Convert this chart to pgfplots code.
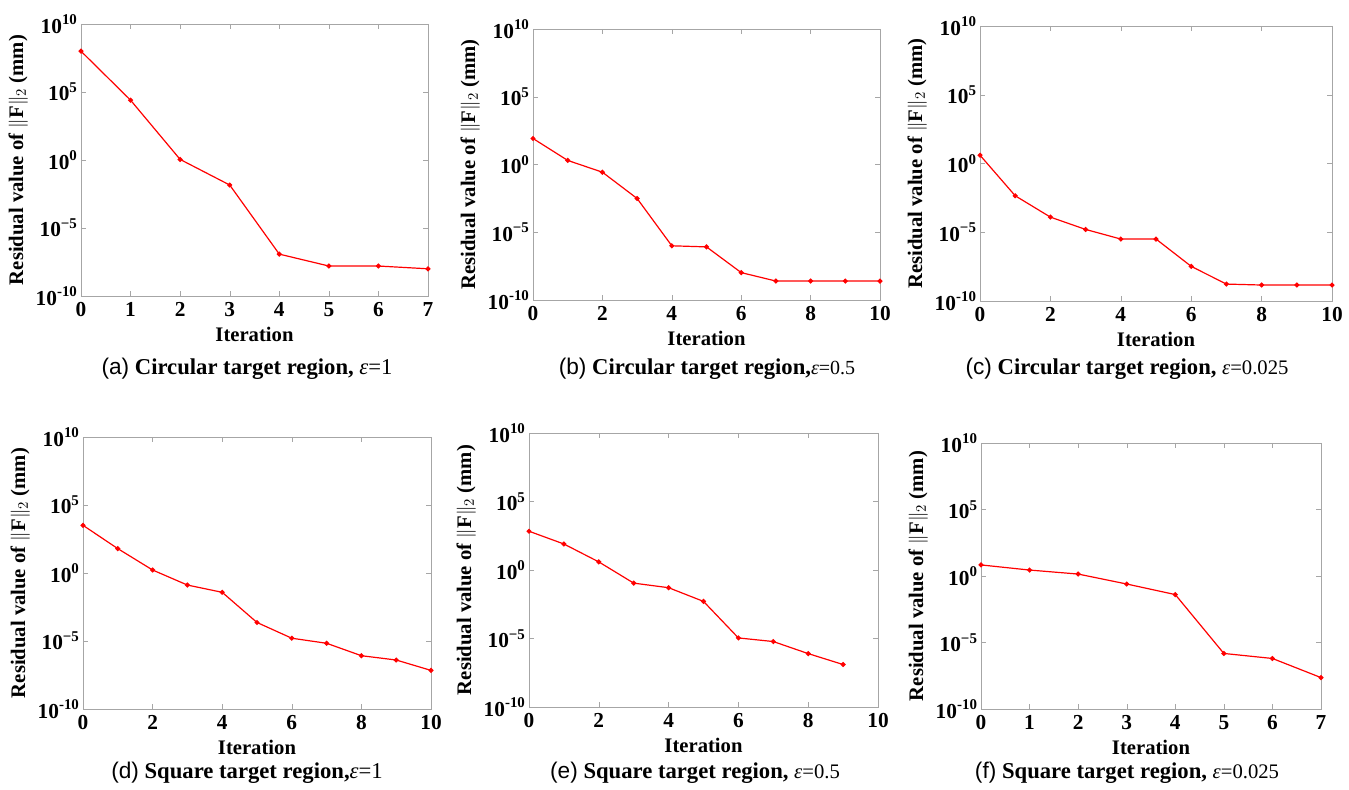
\documentclass[border=0pt]{standalone}
\usepackage{fontspec}
\setmainfont{Liberation Serif}
\newfontfamily\capsans{Liberation Sans}
\usepackage{pgfplots}
\pgfplotsset{compat=1.18}
\pgfplotsset{
  panel/.style={
    scale only axis, anchor=south west, ymin=1e-10, ymax=1e10,
    ytick={1e-10,1e-5,1,1e5,1e10},
    yticklabels={\textbf{10}\textsuperscript{-10},\textbf{10}\textsuperscript{−5},\textbf{10}\textsuperscript{0},\textbf{10}\textsuperscript{5},\textbf{10}\textsuperscript{10}},
    tick align=inside, major tick length=4pt,
    axis line style={gray!70}, tick style={gray!70},
    ticklabel style={font=\bfseries\fontsize{16}{18}\selectfont},
    yticklabel style={xshift=1pt},
    xticklabel style={yshift=-1pt},
    label style={font=\fontsize{15.5}{17}\selectfont},
    xlabel={\textbf{Iteration}},
    ylabel={\textbf{Residual value of} $\|\mathbf{F}\|_2$ \textbf{(mm)}},
    xlabel style={yshift=-1pt},
    ylabel style={yshift=-1pt},
  },
  seven/.style={xmin=0,xmax=7,xtick={0,1,2,3,4,5,6,7},xticklabels={0,1,2,3,4,5,6,7}},
  ten/.style={xmin=0,xmax=10,xtick={0,2,4,6,8,10},xticklabels={0,2,4,6,8,10}},
  ser/.style={red, line width=0.9pt, mark=*, mark size=1.4pt, mark options={solid}},
}
\begin{document}
\begin{tikzpicture}
\path[use as bounding box] (0,0) rectangle (1011.75pt,591.75pt);
% (a)
\begin{axis}[ymode=log, panel, seven, at={(60.75pt,369.75pt)}, width=260.25pt, height=204pt]
\addplot[ser] coordinates {(0,1e8) (1,2.5e4) (2,1.1) (3,1.45e-2) (4,1.2e-7) (5,1.6e-8) (6,1.6e-8) (7,1e-8)};
\end{axis}
% (b)
\begin{axis}[ymode=log, panel, ten, at={(399.75pt,366.75pt)}, width=260.25pt, height=203.25pt]
\addplot[ser] coordinates {(0,83) (1,2) (2,0.27) (3,3.1e-3) (4,1e-6) (5,8.3e-7) (6,1.05e-8) (7,2.5e-9) (8,2.5e-9) (9,2.5e-9) (10,2.5e-9)};
\end{axis}
% (c)
\begin{axis}[ymode=log, panel, ten, at={(735pt,366pt)}, width=264pt, height=206.25pt]
\addplot[ser] coordinates {(0,4) (1,4.5e-3) (2,1.26e-4) (3,1.6e-5) (4,3.2e-6) (5,3.2e-6) (6,3.3e-8) (7,1.7e-9) (8,1.45e-9) (9,1.45e-9) (10,1.45e-9)};
\end{axis}
% (d)
\begin{axis}[ymode=log, panel, ten, at={(62.25pt,60pt)}, width=261pt, height=204pt]
\addplot[ser] coordinates {(0,3.2e3) (1,62) (2,1.66) (3,0.13) (4,3.8e-2) (5,2.3e-4) (6,1.6e-5) (7,6.8e-6) (8,8.3e-7) (9,4e-7) (10,6.9e-8)};
\end{axis}
% (e)
\begin{axis}[ymode=log, panel, ten, at={(396.75pt,61.5pt)}, width=261.75pt, height=205.5pt]
\addplot[ser] coordinates {(0,676) (1,79) (2,3.9) (3,0.11) (4,5.1e-2) (5,5.1e-3) (6,1.1e-5) (7,6e-6) (8,7.9e-7) (9,1.26e-7)};
\end{axis}
% (f)
\begin{axis}[ymode=log, panel, seven, at={(735.75pt,60pt)}, width=255pt, height=199.5pt]
\addplot[ser] coordinates {(0,6.8) (1,2.8) (2,1.4) (3,0.25) (4,4e-2) (5,1.5e-6) (6,6.3e-7) (7,2.3e-8)};
\end{axis}
\begin{scope}[every node/.style={font=\fontsize{17}{19}\selectfont}]
\node at (185.25pt,315pt) {{\capsans (a)} \textbf{Circular target region,} \textit{ε}=1};
\node at (530.25pt,315pt) {{\capsans (b)} \textbf{Circular target region,}{\fontsize{15}{17}\selectfont\textit{ε}=0.5}};
\node at (845.25pt,315pt) {{\capsans (c)} \textbf{Circular target region,} {\fontsize{15.5}{17}\selectfont\textit{ε}=0.025}};
\node at (185.25pt,12pt) {{\capsans (d)} \textbf{Square target region,}\textit{ε}=1};
\node at (521.25pt,12pt) {{\capsans (e)} \textbf{Square target region,} {\fontsize{15.5}{17}\selectfont\textit{ε}=0.5}};
\node at (845.25pt,12pt) {{\capsans (f)} \textbf{Square target region,} {\fontsize{15.5}{17}\selectfont\textit{ε}=0.025}};
\end{scope}
\end{tikzpicture}
\end{document}
